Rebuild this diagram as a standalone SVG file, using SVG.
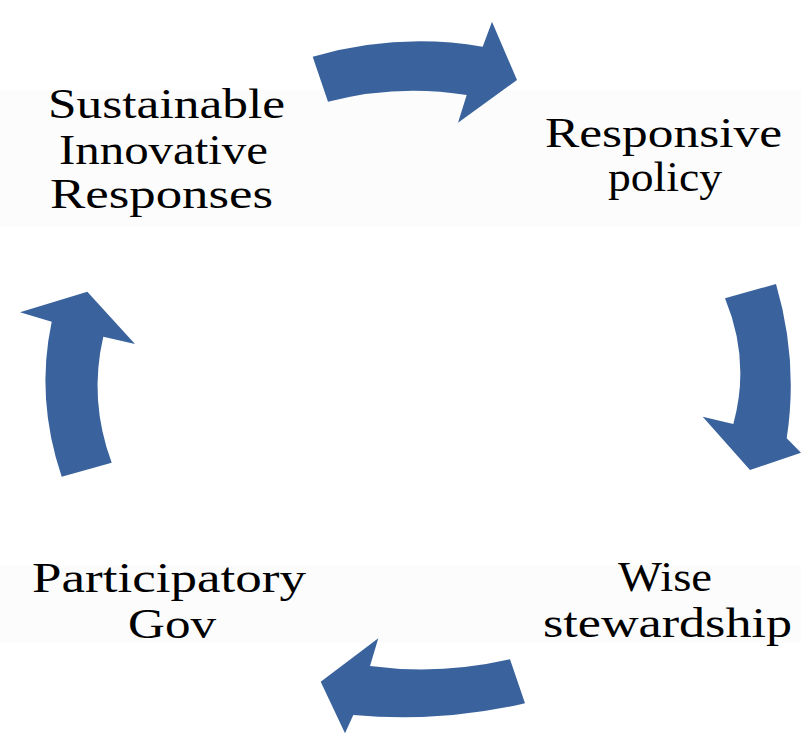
<svg xmlns="http://www.w3.org/2000/svg" width="801" height="734" viewBox="0 0 801 734">
<style>
.lbl{font-family:"Liberation Serif","Times New Roman",serif;font-size:42px;fill:#000}
.arr{fill:#3A639D}
.band{fill:#fcfcfc}
</style>
<rect width="801" height="734" fill="#ffffff"/>
<rect class="band" x="0" y="90" width="801" height="136"/>
<rect class="band" x="0" y="565" width="801" height="78"/>
<g id="connectors">
<path class="arr" d="M312.7 56.7 Q397.7 32.3 482.7 46.7 L492 21.7 L517 80 L458 122.7 L466.7 95 Q397 83.7 328 101.7 Z"/>
<path class="arr" d="M725 298.3 L776 284 Q798.6 360.9 786.7 438.3 L801 452.7 L750 470 L702.7 416.7 L733.3 424 Q750.8 360.9 725 298.3 Z"/>
<path class="arr" d="M510 659.3 L525 703.3 Q440.8 722.8 353.3 715 L345 733.3 L320.7 681.7 L378.3 638.3 L370 666 Q440 675.3 510 659.3 Z"/>
<path class="arr" d="M61.7 476.7 L111.7 462.7 Q88.5 400.3 103.3 336.7 L135 344 L87.3 291.7 L20 312.3 L51.7 321.7 Q35.3 398.8 61.7 476.7 Z"/>
</g>
<g id="node-sustainable">
<text class="lbl" x="48" y="118" textLength="237" lengthAdjust="spacingAndGlyphs">Sustainable</text>
<text class="lbl" x="59" y="164" textLength="209" lengthAdjust="spacingAndGlyphs">Innovative</text>
<text class="lbl" x="50" y="208" textLength="223" lengthAdjust="spacingAndGlyphs">Responses</text>
</g>
<g id="node-responsive">
<text class="lbl" x="545" y="147" textLength="237" lengthAdjust="spacingAndGlyphs">Responsive</text>
<text class="lbl" x="608" y="191" textLength="114" lengthAdjust="spacingAndGlyphs">policy</text>
</g>
<g id="node-wise">
<text class="lbl" x="618" y="591" textLength="94" lengthAdjust="spacingAndGlyphs">Wise</text>
<text class="lbl" x="543" y="637" textLength="249" lengthAdjust="spacingAndGlyphs">stewardship</text>
</g>
<g id="node-participatory">
<text class="lbl" x="32" y="592" textLength="274" lengthAdjust="spacingAndGlyphs">Participatory</text>
<text class="lbl" x="128" y="638" textLength="88" lengthAdjust="spacingAndGlyphs">Gov</text>
</g>
</svg>
